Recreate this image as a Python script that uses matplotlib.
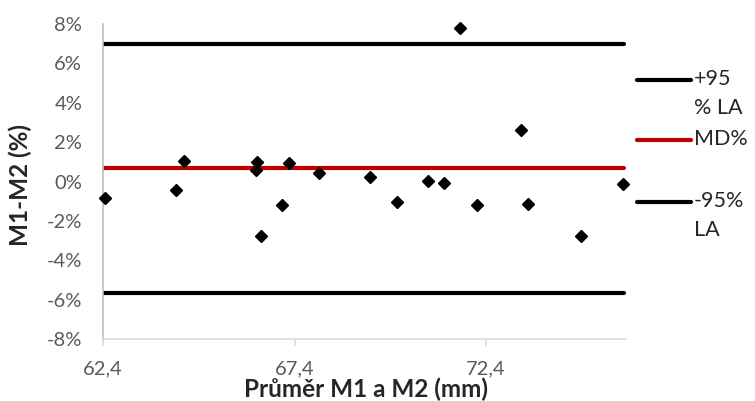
import matplotlib
matplotlib.use("Agg")
import matplotlib.pyplot as plt
from matplotlib.lines import Line2D
from matplotlib.ticker import FuncFormatter

plt.rcParams['font.family'] = ['Lato', 'DejaVu Sans']

# Data
mean_mm = [62.46, 64.31, 64.52, 66.41, 66.39, 66.53, 67.08, 67.26, 68.05, 69.37,
           70.07, 71.72, 73.31, 70.88, 71.29, 75.96, 72.16, 73.50, 74.88]
diff_pct = [-0.85, -0.42, 1.03, 0.98, 0.61, -2.77, -1.19, 0.93, 0.45, 0.25,
            -1.02, 7.80, 2.64, 0.03, -0.07, -0.10, -1.19, -1.12, -2.76]
upper_la = 7.01
md = 0.71
lower_la = -5.64
x_ticks = [62.4, 67.4, 72.4]
y_ticks = [-8, -6, -4, -2, 0, 2, 4, 6, 8]
legend_labels = ["+95\n% LA", "MD%", "-95%\nLA"]

W, H = 755, 401
fig = plt.figure(figsize=(W / 100, H / 100), dpi=100)
ax = fig.add_axes([103 / W, 1 - 339.3 / H, (626 - 103) / W, (339.3 - 24) / H])

xr = [62.4, 76.0]
ax.plot(xr, [upper_la, upper_la], color='black', lw=3, solid_capstyle='round', zorder=2)
ax.plot(xr, [md, md], color='#C00000', lw=3, solid_capstyle='round', zorder=2)
ax.plot(xr, [lower_la, lower_la], color='black', lw=3, solid_capstyle='round', zorder=2)
ax.plot(mean_mm, diff_pct, linestyle='none', marker='D', markersize=6,
        color='black', zorder=3, clip_on=False)

ax.set_xlim(62.4, 76.05)
ax.set_ylim(-8, 8)
ax.set_xticks(x_ticks)
ax.set_yticks(y_ticks)
ax.xaxis.set_major_formatter(FuncFormatter(lambda v, p: f"{v:.1f}".replace('.', ',')))
ax.yaxis.set_major_formatter(FuncFormatter(lambda v, p: f"{int(round(v))}%"))

for s in ['top', 'right']:
    ax.spines[s].set_visible(False)
ax.spines['left'].set_color('#BFBFBF')
ax.spines['left'].set_linewidth(1.2)
ax.spines['bottom'].set_color('#D6DCE5')
ax.spines['bottom'].set_linewidth(1.2)

ax.tick_params(axis='x', direction='out', length=5, width=1.2, color='#D6DCE5',
               labelsize=14.5, labelcolor='#595959', pad=10)
ax.tick_params(axis='y', length=0, labelsize=14.5, labelcolor='#595959', pad=15)

fig.text(20 / W, 1 - 185 / H, "M1-M2 (%)", rotation=90, ha='center', va='center',
         fontsize=17.5, fontweight='bold', color='#262626')
fig.text(366 / W, 1 - 389 / H, "Průměr M1 a M2 (mm)", ha='center', va='center',
         fontsize=17.5, fontweight='bold', color='#262626')

# Legend (manual)
entries = [(80, 'black', legend_labels[0]), (140, '#C00000', legend_labels[1]),
           (202, 'black', legend_labels[2])]
for ypix, col, lab in entries:
    yf = 1 - ypix / H
    fig.add_artist(Line2D([637 / W, 691 / W], [yf, yf], color=col, lw=3,
                          solid_capstyle='round', transform=fig.transFigure))
    fig.text(694 / W, yf + 11 / H, lab, ha='left', va='top', fontsize=15.5,
             color='#262626', linespacing=1.55)

fig.savefig('out.png', dpi=100)
